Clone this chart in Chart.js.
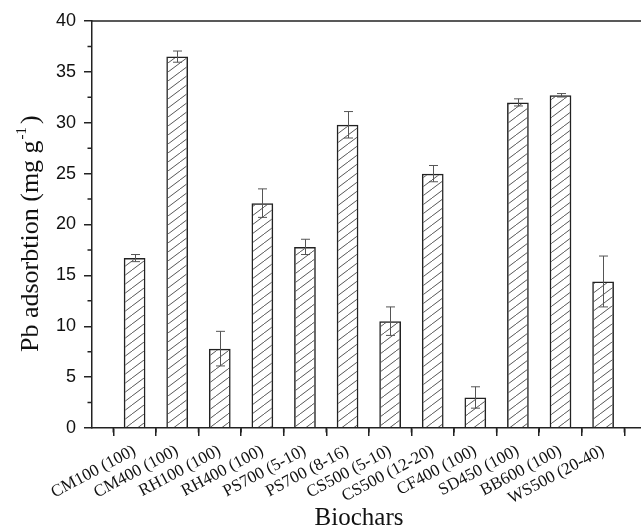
<!DOCTYPE html>
<html>
<head>
<meta charset="utf-8">
<script src="https://cdn.jsdelivr.net/npm/chart.js@4.4.1/dist/chart.umd.min.js"></script>
<style>
  html, body { margin: 0; padding: 0; background: #fff; overflow: hidden; }
  #caixa { width: 641px; height: 527px; }
</style>
</head>
<body>
<div id="caixa"><canvas id="grafico" width="641" height="527"></canvas></div>
<script>
const categorias = ['CM100 (100)', 'CM400 (100)', 'RH100 (100)', 'RH400 (100)', 'PS700 (5-10)', 'PS700 (8-16)',
  'CS500 (5-10)', 'CS500 (12-20)', 'CF400 (100)', 'SD450 (100)', 'BB600 (100)', 'WS500 (20-40)'];
const adsorcao = [16.7, 36.5, 7.8, 22.1, 17.8, 29.8, 10.5, 25.0, 3.0, 32.0, 32.7, 14.4];
const erros = [0.35, 0.55, 1.7, 1.4, 0.75, 1.3, 1.4, 0.8, 1.05, 0.35, 0.17, 2.5];
const ticksY = [0, 5, 10, 15, 20, 25, 30, 35, 40];
const posicoesX = [-1, 0, 1, 2, 3, 4, 5, 6, 7, 8, 9, 10, 11];

const tituloY = 'Pb adsorbtion (mg g';
const tituloX = 'Biochars';

// hachura diagonal das barras
function criarHachura() {
  const c = document.createElement('canvas');
  c.width = 12; c.height = 9;
  const g = c.getContext('2d');
  g.strokeStyle = '#444';
  g.lineWidth = 0.9;
  for (const dx of [-12, 0, 12]) {
    g.beginPath();
    g.moveTo(dx, 9);
    g.lineTo(dx + 12, 0);
    g.stroke();
  }
  return g.createPattern(c, 'repeat');
}

const extras = {
  id: 'extras',
  afterDatasetsDraw(chart) {
    const ctx = chart.ctx;
    const x = chart.scales.x, y = chart.scales.y;
    ctx.save();
    ctx.strokeStyle = '#555';
    ctx.lineWidth = 1;
    adsorcao.forEach((v, i) => {
      const px = Math.round(x.getPixelForValue(i)) + 0.5;
      const t = y.getPixelForValue(v + erros[i]);
      const b = y.getPixelForValue(v - erros[i]);
      ctx.beginPath();
      ctx.moveTo(px, t); ctx.lineTo(px, b);
      ctx.moveTo(px - 4.5, t); ctx.lineTo(px + 4.5, t);
      ctx.moveTo(px - 4.5, b); ctx.lineTo(px + 4.5, b);
      ctx.stroke();
    });
    ctx.restore();
  },
  afterDraw(chart) {
    const ctx = chart.ctx;
    const a = chart.chartArea;
    const x = chart.scales.x, y = chart.scales.y;
    ctx.save();
    ctx.strokeStyle = '#222';
    ctx.lineWidth = 1.5;
    // linha de cima
    ctx.beginPath();
    ctx.moveTo(a.left, a.top); ctx.lineTo(a.right, a.top);
    ctx.stroke();
    // ticks menores
    ctx.beginPath();
    for (let v = 2.5; v < 40; v += 5) {
      const py = y.getPixelForValue(v);
      ctx.moveTo(a.left - 4.5, py); ctx.lineTo(a.left, py);
    }
    for (let v = -0.5; v < 12; v += 1) {
      const px = x.getPixelForValue(v);
      ctx.moveTo(px, a.bottom); ctx.lineTo(px, a.bottom + 4.5);
    }
    ctx.stroke();

    // titulos
    ctx.fillStyle = '#111';
    ctx.font = '25px "Liberation Serif"';
    ctx.textAlign = 'center';
    ctx.textBaseline = 'alphabetic';
    ctx.fillText(tituloX, 359, 525);

    ctx.translate(38, 352);
    ctx.rotate(-Math.PI / 2);
    ctx.textAlign = 'left';
    ctx.font = '26px "Liberation Serif"';
    ctx.fillText(tituloY, 0, 0);
    let w = ctx.measureText(tituloY).width + 1;
    ctx.font = '15px "Liberation Serif"';
    ctx.fillText('-1', w, -12);
    w += ctx.measureText('-1').width + 3;
    ctx.font = '26px "Liberation Serif"';
    ctx.fillText(')', w, 0);
    ctx.restore();
  }
};

const ctx = document.getElementById('grafico').getContext('2d');

new Chart(ctx, {
  type: 'bar',
  data: {
    datasets: [{
      data: categorias.map((c, i) => ({ x: i, y: adsorcao[i] })),
      backgroundColor: criarHachura(),
      borderColor: '#222',
      borderWidth: 1.5,
      barPercentage: 0.51,
      categoryPercentage: 1
    }]
  },
  options: {
    responsive: false,
    animation: false,
    devicePixelRatio: 1,
    layout: { padding: { top: 21, left: 0, right: 0, bottom: 0 } },
    scales: {
      x: {
        type: 'linear',
        min: -1,
        max: 11.89,
        offset: false,
        afterBuildTicks: s => { s.ticks = posicoesX.map(v => ({ value: v })); },
        afterFit: s => { s.height = 99; },
        ticks: {
          callback: v => categorias[v] || '',
          autoSkip: false,
          minRotation: 28,
          maxRotation: 28,
          padding: 5,
          color: '#111',
          font: { family: 'Liberation Serif', size: 17 }
        },
        grid: { drawOnChartArea: false, drawTicks: true, tickLength: 8, color: '#222', lineWidth: 1.5 },
        border: { color: '#222', width: 1.5 }
      },
      y: {
        min: 0,
        max: 40,
        afterBuildTicks: s => { s.ticks = ticksY.map(v => ({ value: v })); },
        afterFit: s => { s.width = 92; },
        ticks: {
          padding: 8,
          color: '#111',
          font: { family: 'Liberation Sans', size: 18 }
        },
        grid: { drawOnChartArea: false, drawTicks: true, tickLength: 8, color: '#222', lineWidth: 1.5 },
        border: { color: '#222', width: 1.5 }
      }
    },
    plugins: {
      legend: { display: false },
      tooltip: { enabled: false }
    }
  },
  plugins: [extras]
});
</script>
</body>
</html>
